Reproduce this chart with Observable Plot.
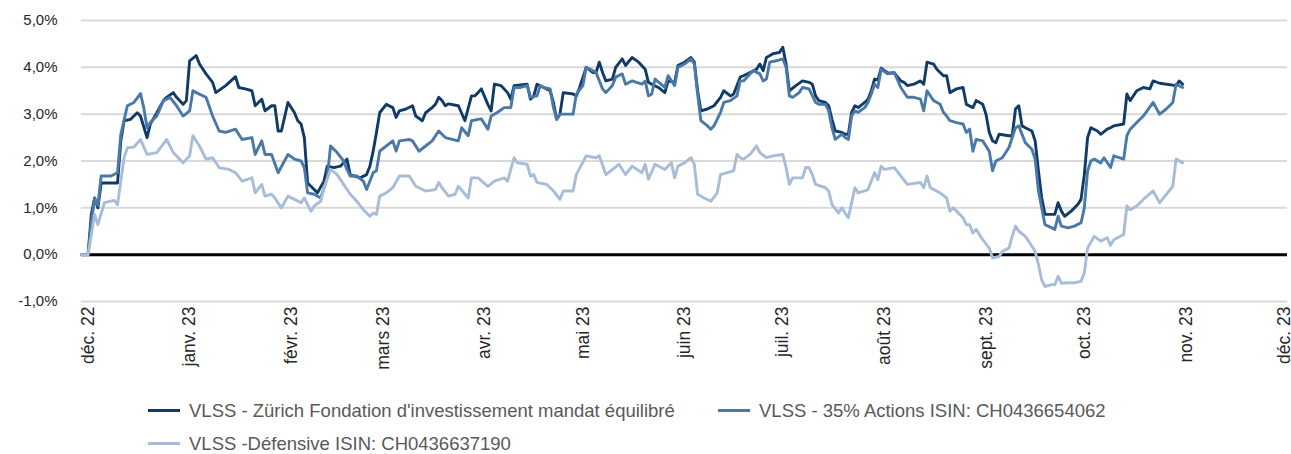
<!DOCTYPE html>
<html><head><meta charset="utf-8">
<script src="https://cdn.jsdelivr.net/npm/d3@7"></script>
<script src="https://cdn.jsdelivr.net/npm/@observablehq/plot@0.6"></script>
<style>
body{margin:0;background:#fff;font-family:"Liberation Sans",Arial,sans-serif;}
#wrap{position:relative;width:1291px;height:454px;background:#fff;overflow:hidden;}
.leg{position:absolute;display:flex;align-items:center;font-size:18.5px;color:#595959;white-space:nowrap;line-height:21px;}
.sw{width:32px;height:3px;margin-right:9px;}
#chart svg [aria-label="y-axis tick label"], #chart svg [aria-label="y-axis"] text{font-size:15px;}
</style></head><body><div id="wrap"><div id="chart"></div></div>
<script>
const seriesNames = ["VLSS - Zürich Fondation d'investissement mandat équilibré", "VLSS - 35% Actions ISIN: CH0436654062", "VLSS -Défensive ISIN: CH0436637190"];
const seriesColors = ["#103b67", "#4a78a9", "#a7bdd7"];
const yTicks = [-1, 0, 1, 2, 3, 4, 5];
const monthTicks = ["2022-12-01","2023-01-01","2023-02-01","2023-03-01","2023-04-01","2023-05-01","2023-06-01","2023-07-01","2023-08-01","2023-09-01","2023-10-01","2023-11-01","2023-12-01"];
const monthLabels = ["déc. 22","janv. 23","févr. 23","mars 23","avr. 23","mai 23","juin 23","juil. 23","août 23","sept. 23","oct. 23","nov. 23","déc. 23"];

const zurich = [["2022-11-29",0],["2022-12-01",0],["2022-12-02",0.86],["2022-12-03",1.21],["2022-12-04",1.0],["2022-12-05",1.53],["2022-12-10",1.53],["2022-12-11",2.43],["2022-12-12",2.86],["2022-12-14",2.89],["2022-12-16",3.03],["2022-12-17",2.96],["2022-12-19",2.50],["2022-12-20",2.79],["2022-12-22",3.03],["2022-12-24",3.29],["2022-12-25",3.36],["2022-12-27",3.46],["2022-12-28",3.36],["2022-12-30",3.21],["2022-12-31",3.29],["2023-01-01",4.14],["2023-01-03",4.25],["2023-01-04",4.07],["2023-01-06",3.86],["2023-01-08",3.68],["2023-01-09",3.46],["2023-01-12",3.61],["2023-01-15",3.80],["2023-01-16",3.57],["2023-01-18",3.54],["2023-01-20",3.50],["2023-01-21",3.18],["2023-01-23",3.32],["2023-01-24",3.07],["2023-01-26",3.18],["2023-01-27",3.18],["2023-01-28",2.64],["2023-01-29",2.64],["2023-01-31",3.25],["2023-02-02",3.03],["2023-02-03",2.86],["2023-02-04",2.79],["2023-02-05",2.50],["2023-02-06",1.53],["2023-02-08",1.39],["2023-02-09",1.32],["2023-02-11",1.57],["2023-02-12",1.89],["2023-02-14",1.86],["2023-02-16",1.89],["2023-02-18",2.04],["2023-02-19",1.71],["2023-02-22",1.64],["2023-02-24",1.71],["2023-02-25",1.89],["2023-02-26",2.21],["2023-02-27",2.61],["2023-02-28",3.03],["2023-03-02",3.21],["2023-03-04",3.14],["2023-03-05",2.93],["2023-03-06",3.07],["2023-03-08",3.11],["2023-03-10",3.18],["2023-03-11",2.96],["2023-03-13",2.86],["2023-03-14",3.03],["2023-03-16",3.14],["2023-03-17",3.21],["2023-03-18",3.36],["2023-03-19",3.29],["2023-03-20",3.18],["2023-03-21",3.22],["2023-03-24",3.18],["2023-03-26",2.86],["2023-03-28",3.39],["2023-03-29",3.39],["2023-03-30",3.46],["2023-03-31",3.54],["2023-04-02",3.21],["2023-04-03",3.07],["2023-04-04",3.64],["2023-04-06",3.61],["2023-04-08",3.46],["2023-04-09",3.32],["2023-04-10",3.61],["2023-04-14",3.64],["2023-04-15",3.32],["2023-04-16",3.39],["2023-04-17",3.64],["2023-04-19",3.57],["2023-04-21",3.50],["2023-04-22",3.25],["2023-04-23",2.89],["2023-04-24",3.0],["2023-04-25",3.46],["2023-04-28",3.43],["2023-04-29",3.39],["2023-04-30",3.57],["2023-05-02",4.00],["2023-05-04",3.89],["2023-05-05",3.89],["2023-05-06",4.11],["2023-05-07",3.89],["2023-05-08",3.71],["2023-05-10",3.75],["2023-05-11",4.0],["2023-05-13",4.18],["2023-05-14",4.04],["2023-05-16",4.21],["2023-05-18",4.11],["2023-05-20",3.96],["2023-05-21",3.68],["2023-05-22",3.64],["2023-05-24",3.57],["2023-05-26",3.46],["2023-05-27",3.71],["2023-05-29",3.68],["2023-05-30",4.04],["2023-06-01",4.11],["2023-06-03",4.21],["2023-06-04",4.11],["2023-06-05",3.50],["2023-06-06",3.07],["2023-06-08",3.11],["2023-06-10",3.18],["2023-06-12",3.36],["2023-06-13",3.50],["2023-06-15",3.39],["2023-06-16",3.43],["2023-06-18",3.79],["2023-06-19",3.82],["2023-06-21",3.89],["2023-06-23",3.96],["2023-06-24",4.07],["2023-06-25",3.93],["2023-06-26",4.21],["2023-06-28",4.29],["2023-06-30",4.32],["2023-07-01",4.43],["2023-07-02",4.07],["2023-07-03",3.50],["2023-07-05",3.61],["2023-07-07",3.71],["2023-07-09",3.68],["2023-07-10",3.64],["2023-07-11",3.39],["2023-07-12",3.29],["2023-07-14",3.25],["2023-07-15",3.18],["2023-07-16",2.89],["2023-07-17",2.64],["2023-07-19",2.61],["2023-07-20",2.57],["2023-07-21",2.57],["2023-07-22",3.04],["2023-07-23",3.18],["2023-07-24",3.14],["2023-07-26",3.25],["2023-07-27",3.32],["2023-07-28",3.50],["2023-07-29",3.75],["2023-07-30",3.73],["2023-07-31",3.98],["2023-08-02",3.88],["2023-08-04",3.88],["2023-08-06",3.71],["2023-08-07",3.68],["2023-08-08",3.61],["2023-08-10",3.64],["2023-08-12",3.71],["2023-08-13",3.64],["2023-08-14",4.11],["2023-08-16",4.07],["2023-08-17",3.96],["2023-08-19",3.82],["2023-08-20",3.82],["2023-08-21",3.46],["2023-08-23",3.54],["2023-08-25",3.57],["2023-08-26",3.21],["2023-08-28",3.14],["2023-08-29",3.29],["2023-08-31",3.21],["2023-09-01",3.0],["2023-09-02",2.61],["2023-09-03",2.43],["2023-09-04",2.39],["2023-09-05",2.57],["2023-09-08",2.54],["2023-09-09",2.54],["2023-09-10",3.11],["2023-09-11",3.18],["2023-09-12",2.75],["2023-09-13",2.71],["2023-09-15",2.64],["2023-09-16",2.43],["2023-09-17",1.79],["2023-09-18",1.21],["2023-09-19",0.86],["2023-09-21",0.86],["2023-09-22",0.86],["2023-09-23",1.11],["2023-09-24",0.93],["2023-09-25",0.82],["2023-09-27",0.93],["2023-09-29",1.07],["2023-09-30",1.18],["2023-10-01",1.71],["2023-10-02",2.5],["2023-10-03",2.71],["2023-10-05",2.64],["2023-10-06",2.57],["2023-10-08",2.68],["2023-10-09",2.71],["2023-10-10",2.75],["2023-10-13",2.79],["2023-10-14",3.43],["2023-10-15",3.29],["2023-10-17",3.50],["2023-10-19",3.57],["2023-10-21",3.54],["2023-10-22",3.71],["2023-10-24",3.66],["2023-10-29",3.61],["2023-10-30",3.71],["2023-10-31",3.64]];

const actions35 = [["2022-11-29",0],["2022-12-01",0],["2022-12-02",0.7],["2022-12-03",1.2],["2022-12-04",1.05],["2022-12-05",1.68],["2022-12-08",1.68],["2022-12-10",1.75],["2022-12-11",2.57],["2022-12-13",3.18],["2022-12-15",3.25],["2022-12-17",3.44],["2022-12-18",3.14],["2022-12-19",2.71],["2022-12-20",2.82],["2022-12-22",2.96],["2022-12-24",3.29],["2022-12-25",3.32],["2022-12-26",3.36],["2022-12-28",3.18],["2022-12-30",2.96],["2023-01-01",3.07],["2023-01-02",3.50],["2023-01-03",3.46],["2023-01-06",3.36],["2023-01-08",2.96],["2023-01-10",2.64],["2023-01-12",2.61],["2023-01-15",2.68],["2023-01-17",2.46],["2023-01-20",2.50],["2023-01-21",2.14],["2023-01-23",2.43],["2023-01-24",2.14],["2023-01-26",2.14],["2023-01-28",1.75],["2023-01-31",2.14],["2023-02-02",2.04],["2023-02-04",2.00],["2023-02-05",1.86],["2023-02-06",1.32],["2023-02-08",1.29],["2023-02-10",1.21],["2023-02-12",1.64],["2023-02-13",2.32],["2023-02-15",2.18],["2023-02-17",2.00],["2023-02-18",1.82],["2023-02-19",1.68],["2023-02-21",1.68],["2023-02-23",1.57],["2023-02-24",1.39],["2023-02-26",1.75],["2023-02-27",1.79],["2023-02-28",2.21],["2023-03-02",2.32],["2023-03-04",2.43],["2023-03-05",2.21],["2023-03-06",2.43],["2023-03-09",2.46],["2023-03-10",2.43],["2023-03-12",2.21],["2023-03-14",2.32],["2023-03-16",2.43],["2023-03-18",2.64],["2023-03-20",2.50],["2023-03-24",2.43],["2023-03-25",2.71],["2023-03-27",2.54],["2023-03-28",2.86],["2023-03-30",2.89],["2023-03-31",2.9],["2023-04-02",2.68],["2023-04-03",2.96],["2023-04-05",3.04],["2023-04-07",3.14],["2023-04-09",3.14],["2023-04-10",3.57],["2023-04-12",3.57],["2023-04-14",3.61],["2023-04-15",3.36],["2023-04-17",3.39],["2023-04-18",3.61],["2023-04-19",3.57],["2023-04-21",3.54],["2023-04-22",3.14],["2023-04-23",2.89],["2023-04-24",3.0],["2023-04-28",3.0],["2023-04-29",3.43],["2023-05-01",3.61],["2023-05-02",4.0],["2023-05-04",3.93],["2023-05-05",3.89],["2023-05-07",3.54],["2023-05-08",3.46],["2023-05-10",3.61],["2023-05-11",3.79],["2023-05-13",3.86],["2023-05-14",3.64],["2023-05-16",3.71],["2023-05-19",3.64],["2023-05-20",3.71],["2023-05-21",3.39],["2023-05-22",3.43],["2023-05-23",3.75],["2023-05-26",3.57],["2023-05-27",3.82],["2023-05-29",3.61],["2023-05-30",4.0],["2023-06-01",4.07],["2023-06-03",4.18],["2023-06-04",4.07],["2023-06-05",3.43],["2023-06-06",2.86],["2023-06-08",2.75],["2023-06-09",2.68],["2023-06-10",2.75],["2023-06-12",3.04],["2023-06-13",3.25],["2023-06-15",3.29],["2023-06-17",3.39],["2023-06-18",3.71],["2023-06-19",3.71],["2023-06-21",3.86],["2023-06-22",3.93],["2023-06-24",3.86],["2023-06-25",3.71],["2023-06-26",3.75],["2023-06-27",4.11],["2023-06-29",4.14],["2023-07-01",4.18],["2023-07-02",4.0],["2023-07-03",3.39],["2023-07-04",3.36],["2023-07-06",3.46],["2023-07-07",3.57],["2023-07-09",3.54],["2023-07-11",3.25],["2023-07-12",3.21],["2023-07-14",3.21],["2023-07-15",3.07],["2023-07-16",2.71],["2023-07-17",2.46],["2023-07-19",2.57],["2023-07-20",2.5],["2023-07-21",2.46],["2023-07-22",2.96],["2023-07-23",3.07],["2023-07-24",3.04],["2023-07-26",3.14],["2023-07-27",3.25],["2023-07-28",3.43],["2023-07-29",3.64],["2023-07-30",3.57],["2023-07-31",3.96],["2023-08-02",3.86],["2023-08-04",3.89],["2023-08-06",3.57],["2023-08-08",3.36],["2023-08-10",3.36],["2023-08-12",3.32],["2023-08-13",3.07],["2023-08-14",3.50],["2023-08-16",3.29],["2023-08-18",3.21],["2023-08-19",3.04],["2023-08-20",2.96],["2023-08-21",2.86],["2023-08-23",2.82],["2023-08-25",2.79],["2023-08-26",2.61],["2023-08-27",2.68],["2023-08-28",2.21],["2023-08-29",2.46],["2023-08-31",2.43],["2023-09-02",2.21],["2023-09-03",1.79],["2023-09-04",2.0],["2023-09-06",2.07],["2023-09-08",2.29],["2023-09-10",2.71],["2023-09-11",2.75],["2023-09-13",2.39],["2023-09-15",2.25],["2023-09-16",2.04],["2023-09-17",1.36],["2023-09-19",0.64],["2023-09-20",0.61],["2023-09-22",0.54],["2023-09-23",0.82],["2023-09-24",0.61],["2023-09-26",0.57],["2023-09-28",0.61],["2023-09-30",0.68],["2023-10-01",1.0],["2023-10-02",1.79],["2023-10-03",2.0],["2023-10-04",2.04],["2023-10-06",1.96],["2023-10-07",2.07],["2023-10-09",1.86],["2023-10-10",2.11],["2023-10-13",2.04],["2023-10-14",2.54],["2023-10-15",2.68],["2023-10-17",2.82],["2023-10-19",2.96],["2023-10-22",3.25],["2023-10-24",3.0],["2023-10-26",3.11],["2023-10-28",3.25],["2023-10-29",3.64],["2023-10-31",3.57]];

const defensive = [["2022-11-29",0],["2022-12-01",0],["2022-12-03",0.86],["2022-12-04",0.64],["2022-12-06",1.11],["2022-12-09",1.16],["2022-12-10",1.07],["2022-12-12",2.07],["2022-12-13",2.28],["2022-12-15",2.30],["2022-12-17",2.46],["2022-12-19",2.14],["2022-12-22",2.18],["2022-12-25",2.46],["2022-12-27",2.18],["2022-12-30",1.96],["2023-01-01",2.11],["2023-01-02",2.54],["2023-01-04",2.32],["2023-01-06",2.04],["2023-01-08",2.07],["2023-01-10",1.86],["2023-01-13",1.82],["2023-01-15",1.75],["2023-01-17",1.57],["2023-01-20",1.64],["2023-01-21",1.32],["2023-01-23",1.50],["2023-01-24",1.25],["2023-01-26",1.29],["2023-01-27",1.21],["2023-01-29",1.00],["2023-01-31",1.25],["2023-02-02",1.18],["2023-02-04",1.11],["2023-02-05",1.21],["2023-02-07",0.93],["2023-02-08",1.04],["2023-02-10",1.14],["2023-02-11",1.43],["2023-02-13",1.82],["2023-02-15",1.71],["2023-02-17",1.50],["2023-02-19",1.29],["2023-02-21",1.14],["2023-02-23",0.96],["2023-02-25",0.82],["2023-02-26",0.89],["2023-02-27",0.86],["2023-02-28",1.25],["2023-03-02",1.32],["2023-03-04",1.43],["2023-03-06",1.68],["2023-03-09",1.68],["2023-03-11",1.46],["2023-03-12",1.43],["2023-03-14",1.36],["2023-03-17",1.39],["2023-03-18",1.54],["2023-03-19",1.43],["2023-03-21",1.25],["2023-03-23",1.29],["2023-03-24",1.46],["2023-03-27",1.21],["2023-03-28",1.64],["2023-03-30",1.64],["2023-04-02",1.46],["2023-04-04",1.57],["2023-04-07",1.64],["2023-04-08",1.57],["2023-04-10",2.07],["2023-04-11",1.96],["2023-04-14",1.93],["2023-04-15",1.68],["2023-04-16",1.71],["2023-04-17",1.54],["2023-04-20",1.50],["2023-04-22",1.36],["2023-04-24",1.18],["2023-04-25",1.36],["2023-04-28",1.36],["2023-04-29",1.71],["2023-05-02",2.11],["2023-05-05",2.07],["2023-05-06",2.11],["2023-05-08",1.71],["2023-05-12",1.93],["2023-05-14",1.71],["2023-05-16",1.89],["2023-05-19",1.75],["2023-05-20",1.93],["2023-05-21",1.61],["2023-05-23",1.93],["2023-05-26",1.82],["2023-05-28",1.96],["2023-05-29",1.64],["2023-05-30",1.89],["2023-06-01",1.96],["2023-06-03",2.07],["2023-06-04",1.93],["2023-06-05",1.29],["2023-06-07",1.21],["2023-06-09",1.14],["2023-06-11",1.32],["2023-06-12",1.71],["2023-06-14",1.75],["2023-06-16",1.79],["2023-06-17",2.14],["2023-06-18",2.07],["2023-06-19",2.04],["2023-06-21",2.14],["2023-06-23",2.32],["2023-06-24",2.18],["2023-06-26",2.07],["2023-06-28",2.11],["2023-07-01",2.14],["2023-07-02",1.86],["2023-07-03",1.50],["2023-07-04",1.64],["2023-07-07",1.64],["2023-07-08",1.86],["2023-07-09",1.86],["2023-07-10",1.71],["2023-07-11",1.50],["2023-07-14",1.43],["2023-07-15",1.36],["2023-07-16",1.07],["2023-07-18",0.89],["2023-07-19",1.00],["2023-07-20",0.89],["2023-07-21",0.79],["2023-07-23",1.43],["2023-07-24",1.32],["2023-07-26",1.36],["2023-07-27",1.39],["2023-07-29",1.75],["2023-07-30",1.6],["2023-07-31",1.89],["2023-08-01",1.82],["2023-08-04",1.86],["2023-08-06",1.68],["2023-08-08",1.50],["2023-08-12",1.54],["2023-08-13",1.43],["2023-08-14",1.68],["2023-08-15",1.43],["2023-08-18",1.32],["2023-08-20",1.21],["2023-08-21",0.93],["2023-08-22",1.0],["2023-08-23",0.93],["2023-08-25",0.79],["2023-08-26",0.64],["2023-08-27",0.64],["2023-08-28",0.46],["2023-08-29",0.54],["2023-08-31",0.32],["2023-09-02",0.14],["2023-09-03",-0.07],["2023-09-05",-0.04],["2023-09-06",0.07],["2023-09-08",0.14],["2023-09-09",0.39],["2023-09-10",0.61],["2023-09-11",0.5],["2023-09-13",0.39],["2023-09-14",0.29],["2023-09-16",0.07],["2023-09-17",-0.21],["2023-09-18",-0.54],["2023-09-19",-0.68],["2023-09-21",-0.64],["2023-09-22",-0.64],["2023-09-23",-0.46],["2023-09-24",-0.61],["2023-09-26",-0.6],["2023-09-28",-0.6],["2023-09-30",-0.57],["2023-10-01",-0.39],["2023-10-02",0.14],["2023-10-04",0.39],["2023-10-06",0.29],["2023-10-08",0.36],["2023-10-09",0.2],["2023-10-10",0.32],["2023-10-13",0.43],["2023-10-14",1.04],["2023-10-15",0.96],["2023-10-17",1.04],["2023-10-19",1.18],["2023-10-22",1.36],["2023-10-24",1.11],["2023-10-28",1.46],["2023-10-29",2.04],["2023-10-31",1.96]];

const parse = d3.utcParse("%Y-%m-%d");
const toRows = (arr) => arr.map(([d, v]) => ({date: parse(d), value: v}));
const tickDates = monthTicks.map(parse);
const labelMap = new Map(tickDates.map((d, i) => [+d, monthLabels[i]]));
const fmtPct = d => d.toFixed(1).replace(".", ",") + "%";

const chart = Plot.plot({
  width: 1291,
  height: 385,
  marginLeft: 81,
  marginRight: 4,
  marginTop: 20,
  marginBottom: 84,
  style: {fontFamily: "'Liberation Sans', Arial, sans-serif", fontSize: "17.5px", color: "#262626", background: "#fff", overflow: "visible"},
  x: {type: "utc", domain: [parse("2022-11-29"), parse("2023-12-02")], ticks: tickDates, tickFormat: d => labelMap.get(+d), tickRotate: -90, tickSize: 0, tickPadding: 5, label: null},
  y: {domain: [-1, 5], ticks: yTicks, tickFormat: fmtPct, tickSize: 0, tickPadding: 24, label: null},
  marks: [
    Plot.ruleY(yTicks, {stroke: "#d9d9d9", strokeWidth: 2}),
    Plot.ruleY([0], {stroke: "#000", strokeWidth: 3}),
    Plot.line(toRows(zurich), {x: "date", y: "value", stroke: seriesColors[0], strokeWidth: 2.9}),
    Plot.line(toRows(actions35), {x: "date", y: "value", stroke: seriesColors[1], strokeWidth: 2.9}),
    Plot.line(toRows(defensive), {x: "date", y: "value", stroke: seriesColors[2], strokeWidth: 2.9})
  ]
});
document.getElementById("chart").appendChild(chart);

const legendPos = [[148, 400], [718, 400], [148, 433]];
const wrap = document.getElementById("wrap");
seriesNames.forEach((name, i) => {
  const item = document.createElement("div");
  item.className = "leg";
  item.style.left = legendPos[i][0] + "px";
  item.style.top = legendPos[i][1] + "px";
  const sw = document.createElement("span");
  sw.className = "sw";
  sw.style.background = seriesColors[i];
  const tx = document.createElement("span");
  tx.textContent = name;
  item.appendChild(sw);
  item.appendChild(tx);
  wrap.appendChild(item);
});
</script></body></html>
